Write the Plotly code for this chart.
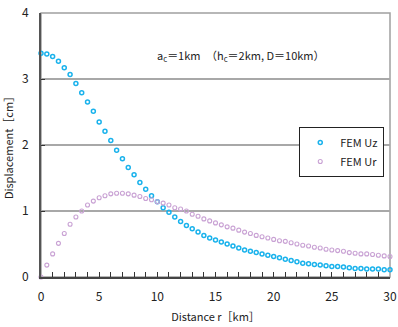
import plotly.graph_objects as go

r_km = [i * 0.5 for i in range(61)]

uz_cm = [3.39, 3.38, 3.34, 3.27, 3.17, 3.07, 2.93, 2.79, 2.65, 2.51,
         2.35, 2.21, 2.07, 1.92, 1.79, 1.66, 1.55, 1.43, 1.33, 1.23,
         1.14, 1.05, 0.98, 0.91, 0.84, 0.78, 0.73, 0.68, 0.63, 0.59,
         0.56, 0.53, 0.50, 0.47, 0.44, 0.41, 0.39, 0.37, 0.35, 0.33,
         0.31, 0.29, 0.27, 0.25, 0.23, 0.21, 0.20, 0.19, 0.18, 0.17,
         0.16, 0.16, 0.15, 0.14, 0.13, 0.13, 0.12, 0.12, 0.12, 0.11, 0.11]

ur_cm = [0.00, 0.18, 0.35, 0.51, 0.66, 0.80, 0.91, 1.00, 1.09, 1.15,
         1.20, 1.23, 1.26, 1.27, 1.27, 1.26, 1.24, 1.22, 1.19, 1.17,
         1.14, 1.12, 1.09, 1.05, 1.03, 1.00, 0.95, 0.92, 0.88, 0.85,
         0.82, 0.79, 0.76, 0.74, 0.71, 0.68, 0.66, 0.63, 0.61, 0.59,
         0.57, 0.55, 0.54, 0.52, 0.50, 0.48, 0.47, 0.45, 0.44, 0.42,
         0.41, 0.40, 0.39, 0.37, 0.36, 0.35, 0.35, 0.34, 0.33, 0.32, 0.31]

x_ticks = [0, 5, 10, 15, 20, 25, 30]
y_ticks = [0, 1, 2, 3, 4]

FONT = "Noto Sans CJK JP, Arial, sans-serif"

fig = go.Figure()
fig.add_trace(go.Scatter(
    x=r_km, y=uz_cm, mode="markers", name="FEM Uz",
    marker=dict(symbol="circle-open", size=4, color="#19b2ec",
                line=dict(width=1.5, color="#19b2ec")),
    cliponaxis=False))
fig.add_trace(go.Scatter(
    x=r_km, y=ur_cm, mode="markers", name="FEM Ur",
    marker=dict(symbol="circle-open", size=4, color="#c9a2d4",
                line=dict(width=1.1, color="#c9a2d4")),
    cliponaxis=False))

# plot frame (top/right)
fig.add_shape(type="rect", xref="paper", yref="paper", x0=0, y0=0, x1=1, y1=1,
              line=dict(color="#a0a0a0", width=1.5), layer="below")

fig.add_annotation(
    x=17.2, y=3.36, xref="x", yref="y", showarrow=False,
    text="a<sub>c</sub>＝1km　（h<sub>c</sub>＝2km, D＝10km）",
    font=dict(family=FONT, size=11, color="#222"), xanchor="center", yanchor="middle")

fig.update_layout(
    width=398, height=327,
    margin=dict(l=41, r=8, t=13, b=50, autoexpand=False),
    paper_bgcolor="white", plot_bgcolor="white",
    font=dict(family=FONT, size=12, color="#222"),
    showlegend=True,
    legend=dict(x=0.74, y=0.568, xanchor="left", yanchor="top",
                bgcolor="white", bordercolor="#222", borderwidth=1,
                font=dict(family=FONT, size=11, color="#222"),
                tracegroupgap=0, itemwidth=30),
    xaxis=dict(range=[0, 30], tickvals=x_ticks, ticks="inside", ticklen=5,
               tickcolor="#333", tickwidth=1, automargin=False,
               minor=dict(dtick=1, ticks="inside", ticklen=5, tickcolor="#333"),
               showline=True, linecolor="#444", linewidth=2,
               showgrid=False, zeroline=False, ticklabelstandoff=8,
               title=dict(text="Distance r［km］", font=dict(size=11), standoff=10),
               tickfont=dict(size=12)),
    yaxis=dict(range=[0, 4], tickvals=y_ticks, ticks="inside", ticklen=4,
               tickcolor="#333", automargin=False,
               showline=True, linecolor="#555", linewidth=2,
               showgrid=True, gridcolor="#a8a8a8", gridwidth=1.5,
               zeroline=False, ticklabelstandoff=8,
               title=dict(text="Displacement［cm］", font=dict(size=11), standoff=10),
               tickfont=dict(size=12)),
)

fig.write_html("out.html")
